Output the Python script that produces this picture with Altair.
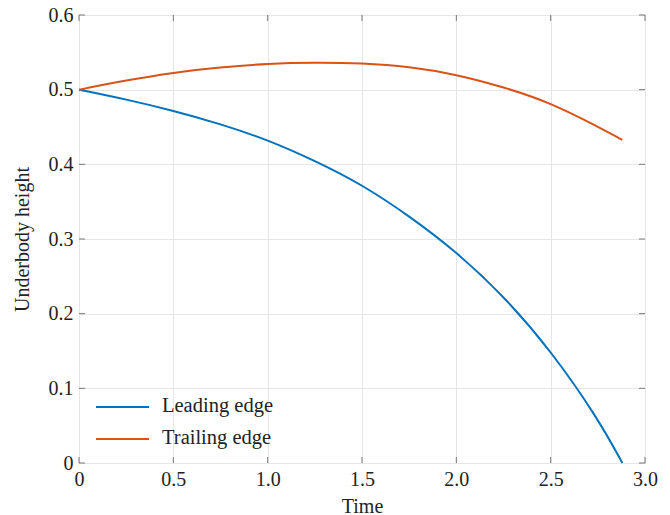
import altair as alt
import pandas as pd

time = [0, 0.25, 0.5, 0.75, 1.0, 1.25, 1.5, 1.75, 2.0, 2.25, 2.5, 2.75, 2.88]
leading = [0.5, 0.487, 0.472, 0.454, 0.433, 0.405, 0.373, 0.331, 0.283, 0.224, 0.151, 0.06, 0.0]
trailing = [0.5, 0.5125, 0.523, 0.530, 0.535, 0.5365, 0.5356, 0.531, 0.5205, 0.5035, 0.4826, 0.4505, 0.4326]
series = ["Leading edge", "Trailing edge"]
colors = ["#0072BD", "#D95319"]
x_ticks = [0, 0.5, 1.0, 1.5, 2.0, 2.5, 3.0]
y_ticks = [0, 0.1, 0.2, 0.3, 0.4, 0.5, 0.6]

rows = []
for t, a, b in zip(time, leading, trailing):
    rows.append({"Time": t, "h": a, "series": series[0]})
    rows.append({"Time": t, "h": b, "series": series[1]})
df = pd.DataFrame(rows)

W, H = 566, 448
FONT = "Liberation Serif"
AX = "#777777"
TXT = "#222222"
TL = 6

lines = alt.Chart(df).mark_line(strokeWidth=2, interpolate="basis").encode(
    x=alt.X("Time:Q", scale=alt.Scale(domain=[0, 3], nice=False),
            axis=alt.Axis(values=x_ticks, title="Time", grid=True, ticks=False, domain=False,
                          labelFlush=False,
                          labelExpr="datum.value == 0 ? '0' : format(datum.value, '.1f')",
                          labelPadding=6, titlePadding=7, titleFontSize=20)),
    y=alt.Y("h:Q", scale=alt.Scale(domain=[0, 0.6], nice=False),
            axis=alt.Axis(values=y_ticks, title="Underbody height", grid=True, ticks=False, domain=False,
                          labelFlush=False,
                          labelExpr="datum.value == 0 ? '0' : format(datum.value, '.1f')",
                          labelPadding=6, titlePadding=16, titleFontSize=20)),
    color=alt.Color("series:N", scale=alt.Scale(domain=series, range=colors), legend=None),
    detail="series:N",
)

# manual legend (inside lower-left of the plot)
legend_layers = []
for i, (s, c) in enumerate(zip(series, colors)):
    ld = pd.DataFrame({"series": [s]})
    yy = 392 + 32 * i
    legend_layers.append(
        alt.Chart(ld).mark_rule(color=c, strokeWidth=2).encode(
            x=alt.value(17), x2=alt.value(70), y=alt.value(yy)))
    legend_layers.append(
        alt.Chart(ld).mark_text(align="left", baseline="middle", font=FONT, fontSize=20.5,
                                color=TXT).encode(
            text="series:N", x=alt.value(83), y=alt.value(yy - 1)))

xt = pd.DataFrame({"t": x_ticks})
yt = pd.DataFrame({"v": y_ticks})
top_ticks = alt.Chart(xt).mark_rule(color=AX).encode(x="t:Q", y=alt.value(0), y2=alt.value(TL))
bot_ticks = alt.Chart(xt).mark_rule(color=AX).encode(x="t:Q", y=alt.value(H - TL), y2=alt.value(H))
left_ticks = alt.Chart(yt).mark_rule(color=AX).encode(y="v:Q", x=alt.value(0), x2=alt.value(TL))
right_ticks = alt.Chart(yt).mark_rule(color=AX).encode(y="v:Q", x=alt.value(W - TL), x2=alt.value(W))

chart = alt.layer(lines, top_ticks, bot_ticks, left_ticks, right_ticks, *legend_layers).properties(
    width=W, height=H, background="white",
    autosize=alt.AutoSizeParams(type="none"),
    padding={"left": 71, "top": 7, "right": 17, "bottom": 52},
).configure_view(stroke=AX, strokeWidth=1).configure_axis(
    labelFont=FONT, titleFont=FONT, labelFontSize=20,
    labelColor=TXT, titleColor=TXT, titleFontWeight="normal",
    gridColor="#e6e6e6", gridWidth=1
)

chart.save("out.html", embed_options={"renderer": "svg", "actions": False})
